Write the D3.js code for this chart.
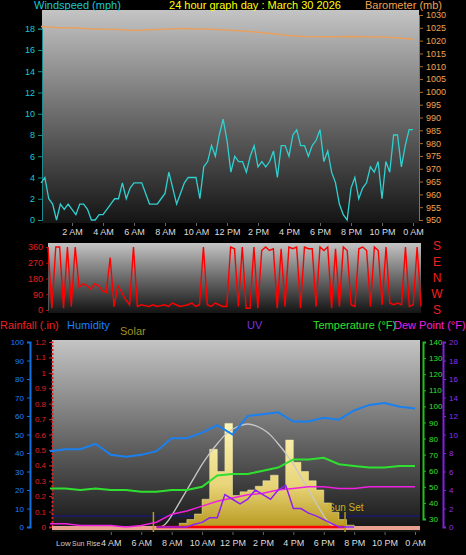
<!DOCTYPE html>
<html><head><meta charset="utf-8">
<script src="https://cdn.jsdelivr.net/npm/d3@7"></script>
<style>body{margin:0;background:#000}svg{display:block;font-family:"Liberation Sans",Arial,sans-serif}</style>
</head><body><svg width="466" height="555"></svg>
<script>
const svg = d3.select('svg');

// ---- data ----
const hourTicks = [2,4,6,8,10,12,14,16,18,20,22,24];
const hourLabels = ['2 AM','4 AM','6 AM','8 AM','10 AM','12 PM','2 PM','4 PM','6 PM','8 PM','10 PM','0 AM'];

// windspeed every 15 min (mph)
const windSpeed = [3.5,4,2,1.5, 0,1.5,1,1.5, 1,0.5,1.5,1.5, 1,0,0,0.5, 0.5,1,1.5,2, 2,3.5,2,3,
  3.5,3.5,3.5,2.5, 1.5,1.5,1.5,2, 2.5,4.5,3,1.5, 2.5,3.5,4,4, 4,2,5,5.5, 7,6,8,9.5,
  7.5,4.5,6,5.5, 5.5,4.5,6,7, 5,5.5,5,5.5, 6.5,4,7,7, 6,8,8.5,7, 7,6,7,7.5,
  8.5,5.5,6.5,4.5, 3.5,1.5,0.5,0, 3,4,2,3, 3.5,5,4.5,5.5, 2,5.5,4.5,8, 8,5,7,8.5, 8.5];
// barometer hourly (mb)
const barometer = [1025.5,1025,1025,1024.6,1024.4,1024.3,1024,1024.2,1024.4,1024.7,1024.5,1024.4,
  1024.1,1023.8,1023.3,1022.7,1022,1021.6,1021.5,1021.5,1021.6,1021.5,1021.4,1021,1020.5];
// wind direction every 15 min (deg)
const windDir = [360,10,360,360, 10,360,20,360, 130,150,140,120, 150,140,110,100, 300,20,140,100,
  60,30,360,20, 30,25,20,30, 20,25,30,20, 40,30,20,25, 30,40,20,30, 360,30,20,40, 30,20,20,360,
  350,20,360,10, 10,360,10,340, 360,340,350,10, 350,20,360,350, 360,10,360,350, 350,20,360,340,
  360,10,350,20, 360,340,30,20, 350,360,340,20, 360,340,30,360, 40,30,40,30, 360,20,30,360, 20];
// hourly bottom panel values
const humidity = [41,42,42,45,39,38,39,41,48,48,51,55,50,60,61,62,57,57,59,58,63,66,67,65,64];
const temperature = [49,49,48,49,48,48,47,47,48,48,50,57,58,58,60,62,67,67,68,64,63,62,62,63,63];
const dewPoint = [27,27,26,26,26,25,26,28,33,35,38,41,43,45,46,48,49,50,50,49,49,50,50,50,50];
// UV & solar every 30 min from 7:00 to 20:00
const halfHours = d3.range(7, 20.01, 0.5);
const uv = [0,0,0,0,0,0.3,0.5,1,1,3.5,3,2.5,3,4,3.5,3,4,4.5,2,2,1.5,1.2,0.8,0.4,0,0,0];
const solar = [0,0,0,20,40,70,150,420,300,560,170,190,200,220,250,280,200,470,350,300,250,200,130,80,40,10,0];
const solarMax = [0,0,60,130,200,270,340,400,450,500,530,550,560,550,530,500,450,400,340,270,200,130,60,0,0,0,0];

const sunRise = 6.8, sunSet = 19.4;

function grad(id, stops) {
  const g = svg.append('defs').append('linearGradient').attr('id', id)
    .attr('x1', 0).attr('y1', 0).attr('x2', 0).attr('y2', 1);
  stops.forEach(s => g.append('stop').attr('offset', s[0]).attr('stop-color', s[1]));
}
grad('bg', [[0, '#c4c4c4'], [0.5, '#6a6a6a'], [1, '#141414']]);
grad('sol', [[0, '#fff6b8'], [0.6, '#e8d478'], [1, '#b89a20']]);

const txt = (x, y, t, c, anchor = 'start', size = 11) => svg.append('text')
  .attr('x', x).attr('y', y).attr('fill', c).attr('font-size', size)
  .attr('text-anchor', anchor).text(t);

// ---- top panel ----
const xT = d3.scaleLinear().domain([0, 24]).range([41, 413]);
const yW = d3.scaleLinear().domain([0, 18]).range([220, 28.7]);
const yB = d3.scaleLinear().domain([950, 1030]).range([220, 15]);
svg.append('rect').attr('x', 42).attr('y', 10).attr('width', 377).attr('height', 213).attr('fill', 'url(#bg)');

svg.append('g').attr('transform', 'translate(42,0)')
  .call(d3.axisLeft(yW).ticks(9).tickSize(4))
  .call(g => { g.select('.domain').attr('stroke', '#1c8c8c'); g.selectAll('line').attr('stroke', '#1c8c8c');
    g.selectAll('text').attr('fill', '#18c8d8').attr('font-size', 9); });
svg.append('g').attr('transform', 'translate(419,0)')
  .call(d3.axisRight(yB).ticks(16).tickFormat(d3.format('d')).tickSize(4))
  .call(g => { g.select('.domain').attr('stroke', '#b06a20'); g.selectAll('line').attr('stroke', '#b06a20');
    g.selectAll('text').attr('fill', '#f0a050').attr('font-size', 9); });
svg.append('g').attr('transform', 'translate(0,223)')
  .call(d3.axisBottom(xT).tickValues(hourTicks).tickFormat((d, i) => hourLabels[i]).tickSize(3))
  .call(g => { g.select('.domain').remove(); g.selectAll('line').attr('stroke', '#666');
    g.selectAll('text').attr('fill', '#ddd').attr('font-size', 9); });

svg.append('path').datum(barometer).attr('fill', 'none').attr('stroke', '#e8a060').attr('stroke-width', 1.5)
  .attr('d', d3.line().x((d, i) => xT(i)).y(d => yB(d)));
svg.append('path').datum(windSpeed).attr('fill', 'none').attr('stroke', '#30d0d0').attr('stroke-width', 1.3)
  .attr('d', d3.line().x((d, i) => xT(i / 4)).y(d => yW(d)));

txt(34, 9, 'Windspeed (mph)', '#18c8d8');
txt(255, 9, '24 hour graph day : March 30 2026', '#ffff00', 'middle');
txt(442, 9, 'Barometer (mb)', '#f0a050', 'end');

// ---- middle panel ----
const xM = d3.scaleLinear().domain([0, 24]).range([48, 421]);
const yD = d3.scaleLinear().domain([0, 360]).range([310, 247]);
svg.append('rect').attr('x', 48).attr('y', 243).attr('width', 373).attr('height', 70).attr('fill', 'url(#bg)');
svg.append('g').attr('transform', 'translate(48,0)')
  .call(d3.axisLeft(yD).tickValues([0, 90, 180, 270, 360]).tickSize(2))
  .call(g => { g.select('.domain').attr('stroke', '#555'); g.selectAll('line').attr('stroke', '#c00');
    g.selectAll('text').attr('fill', '#e02020').attr('font-size', 9); });
svg.append('path').datum(windDir).attr('fill', 'none').attr('stroke', '#f00').attr('stroke-width', 1.4)
  .attr('d', d3.line().x((d, i) => xM(i / 4)).y(d => yD(d)));
['S', 'E', 'N', 'W', 'S'].forEach((c, i) => txt(437, 250 + i * 16, c, '#f02020', 'middle', 12));

// ---- bottom panel ----
const xB = d3.scaleLinear().domain([0, 24]).range([50, 415]);
const yH = d3.scaleLinear().domain([0, 100]).range([527, 342]);
const yR = d3.scaleLinear().domain([0, 1.2]).range([527, 342]);
const yTp = d3.scaleLinear().domain([30, 140]).range([519, 342]);
const yU = d3.scaleLinear().domain([0, 20]).range([527, 342]);
const yS = d3.scaleLinear().domain([0, 1000]).range([527, 342]);
svg.append('rect').attr('x', 52).attr('y', 340).attr('width', 368).attr('height', 192).attr('fill', 'url(#bg)');

const styleAxis = (g, c, tc) => { g.select('.domain').attr('stroke', c).attr('stroke-width', 2);
  g.selectAll('line').attr('stroke', c); g.selectAll('text').attr('fill', tc).attr('font-size', 8); };
svg.append('g').attr('transform', 'translate(30,0)')
  .call(d3.axisLeft(yH).ticks(10).tickSize(3)).call(g => styleAxis(g, '#1070e0', '#1a80ff'));
svg.append('g').attr('transform', 'translate(52,0)')
  .call(d3.axisLeft(yR).tickValues(d3.range(0, 1.21, 0.1)).tickFormat(d => d3.format('~g')(+d.toFixed(1))).tickSize(3))
  .call(g => { styleAxis(g, '#e02020', '#e02020'); g.select('.domain').attr('stroke-dasharray', '2,2'); });
svg.append('g').attr('transform', 'translate(423,0)')
  .call(d3.axisRight(yTp).ticks(12).tickSize(3)).call(g => styleAxis(g, '#20c020', '#30e030'));
svg.append('g').attr('transform', 'translate(443,0)')
  .call(d3.axisRight(yU).ticks(10).tickSize(3)).call(g => styleAxis(g, '#8020e0', '#9030f0'));
svg.append('g').attr('transform', 'translate(0,532)')
  .call(d3.axisBottom(xB).tickValues(hourTicks.slice(1)).tickFormat((d, i) => hourLabels[i + 1]).tickSize(3))
  .call(g => { g.select('.domain').remove(); g.selectAll('line').attr('stroke', '#666');
    g.selectAll('text').attr('fill', '#ddd').attr('font-size', 9).attr('dy', '0.9em'); });
txt(56, 546, 'Low', '#ccc', 'start', 8);
txt(72, 546, 'Sun Rise', '#ccc', 'start', 7);

// threshold lines
svg.append('line').attr('x1', 52).attr('x2', 420).attr('y1', yU(1.2)).attr('y2', yU(1.2)).attr('stroke', '#1a1a70').attr('stroke-width', 1.5);
svg.append('rect').attr('x', 52).attr('y', 526).attr('width', 368).attr('height', 4).attr('fill', '#e8a090');

// solar
svg.append('path').datum(solar).attr('fill', 'url(#sol)').attr('stroke', '#f8f0b0').attr('stroke-width', 0.5)
  .attr('d', d3.area().curve(d3.curveStepAfter).x((d, i) => xB(halfHours[i])).y0(yS(0)).y1(d => yS(d)));
svg.append('path').datum(solarMax).attr('fill', 'none').attr('stroke', '#c8c8c8').attr('stroke-width', 1.3)
  .attr('d', d3.line().curve(d3.curveBasis).x((d, i) => xB(halfHours[i])).y(d => yS(d)));
svg.append('line').attr('x1', xB(7)).attr('x2', xB(sunSet)).attr('y1', 527).attr('y2', 527).attr('stroke', '#f00').attr('stroke-width', 2.5);
[sunRise, sunSet].forEach(h => svg.append('line').attr('x1', xB(h)).attr('x2', xB(h))
  .attr('y1', 512).attr('y2', 532).attr('stroke', '#b8a010').attr('stroke-width', 1.5));
txt(xB(sunSet) - 17, 511, 'Sun Set', '#c8b020', 'start', 10);

const hLine = (data, y, c, w) => svg.append('path').datum(data).attr('fill', 'none').attr('stroke', c)
  .attr('stroke-width', w).attr('d', d3.line().x((d, i) => xB(i)).y(d => y(d)));
hLine(humidity, yH, '#1a80f0', 2);
hLine(temperature, yTp, '#30e030', 2);
hLine(dewPoint, yTp, '#f020e0', 1.5);
svg.append('path').datum(uv).attr('fill', 'none').attr('stroke', '#9020f0').attr('stroke-width', 1.5)
  .attr('d', d3.line().x((d, i) => xB(halfHours[i])).y(d => yU(d)));

txt(0, 329, 'Rainfall (.in)', '#f02020');
txt(67, 329, 'Humidity', '#1a80ff');
txt(120, 335, 'Solar', '#a09020');
txt(247, 329, 'UV', '#8030e0');
txt(313, 329, 'Temperature (°F)', '#30e030');
txt(394, 329, 'Dew Point (°F)', '#f020e0');
</script></body></html>
